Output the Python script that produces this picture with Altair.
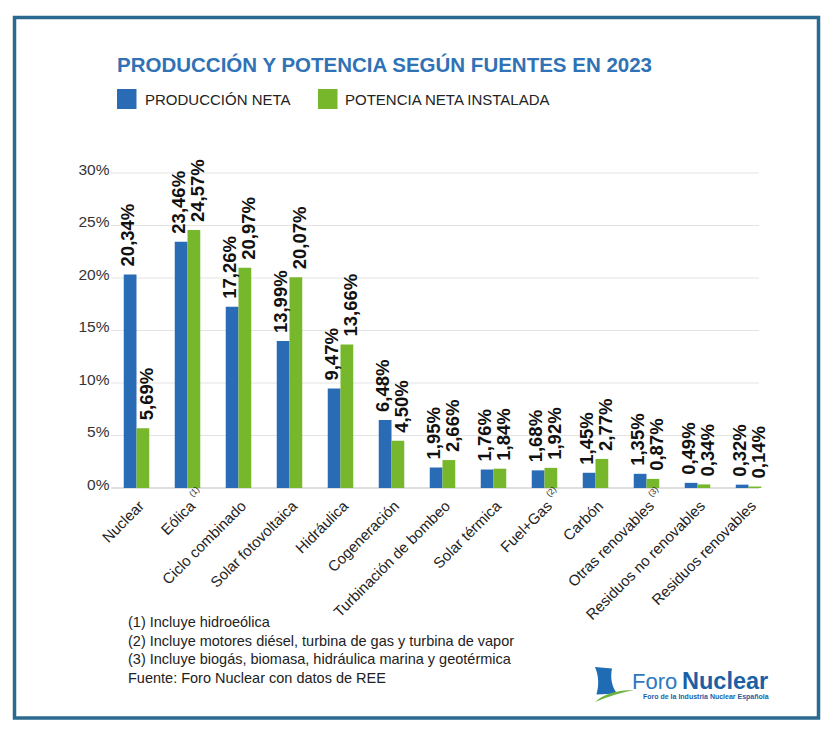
import altair as alt
import pandas as pd

# Shares of net production and installed net capacity by source, 2023 (%)
categories = [
    "Nuclear", "Eólica", "Ciclo combinado", "Solar fotovoltaica", "Hidráulica",
    "Cogeneración", "Turbinación de bombeo", "Solar térmica", "Fuel+Gas",
    "Carbón", "Otras renovables", "Residuos no renovables", "Residuos renovables",
]
note_marks = ["", "(1)", "", "", "", "", "", "", "(2)", "", "(3)", "", ""]
produccion = [20.34, 23.46, 17.26, 13.99, 9.47, 6.48, 1.95, 1.76, 1.68, 1.45, 1.35, 0.49, 0.32]
potencia = [5.69, 24.57, 20.97, 20.07, 13.66, 4.50, 2.66, 1.84, 1.92, 2.77, 0.87, 0.34, 0.14]
series = ["PRODUCCIÓN NETA", "POTENCIA NETA INSTALADA"]
y_ticks = [0, 5, 10, 15, 20, 25, 30]
notes = [
    "(1) Incluye hidroeólica",
    "(2) Incluye motores diésel, turbina de gas y turbina de vapor",
    "(3) Incluye biogás, biomasa, hidráulica marina y geotérmica",
    "Fuente: Foro Nuclear con datos de REE",
]

BLUE = "#2a6bb5"
GREEN = "#77b72b"
FRAME = "#2b6a90"
FONT = "Liberation Sans"

W, H = 663, 315
LEFT, TOP = 111, 173
TOTAL_W, TOTAL_H = 833, 736
LABEL_PAD, LABEL_SHIFT = 15, 5

rows = []
for c, p, q in zip(categories, produccion, potencia):
    rows.append({"fuente": c, "serie": series[0], "valor": p})
    rows.append({"fuente": c, "serie": series[1], "valor": q})
df = pd.DataFrame(rows)
df["etiqueta"] = df["valor"].map(lambda v: f"{v:.2f}".replace(".", ",") + "%")

notes_df = pd.DataFrame({"fuente": categories, "nota": note_marks})
notes_df = notes_df[notes_df["nota"] != ""]

y_scale = alt.Scale(domain=[0, 30], nice=False)
x_enc = alt.X(
    "fuente:N", sort=categories, title=None,
    scale=alt.Scale(paddingInner=0.5, paddingOuter=0.25),
    axis=alt.Axis(labelAngle=-45, labelAlign="right", labelBaseline="middle",
                  labelPadding=LABEL_PAD, labelOffset=LABEL_SHIFT, ticks=False, domain=False,
                  labelFontSize=15, labelColor="#222", labelFont=FONT),
)
xo_enc = alt.XOffset("serie:N", sort=series)
color_enc = alt.Color("serie:N", scale=alt.Scale(domain=series, range=[BLUE, GREEN]), legend=None)

# horizontal gridlines, the zero line slightly darker
grid = alt.Chart(pd.DataFrame({"v": y_ticks})).mark_rule(strokeWidth=1).encode(
    y=alt.Y("v:Q", scale=y_scale, title=None,
            axis=alt.Axis(values=y_ticks, labelExpr="datum.value + '%'", ticks=False,
                          domain=False, grid=False, labelFontSize=15.5, labelColor="#333",
                          labelFont=FONT, labelPadding=2, labelBaseline="alphabetic",
                          labelOffset=1)),
    x=alt.value(0), x2=alt.value(648),
    color=alt.condition("datum.v == 0", alt.value("#bdbdbd"), alt.value("#e3e3e3")),
)

bars = alt.Chart(df).mark_bar().encode(
    x=x_enc, xOffset=xo_enc, y=alt.Y("valor:Q", scale=y_scale), color=color_enc,
)


def value_labels(serie, shift):
    # vertical labels; dy moves them sideways once rotated
    return alt.Chart(df).transform_filter(alt.datum.serie == serie).mark_text(
        angle=270, align="left", baseline="middle", dx=8, dy=shift, font=FONT,
        fontWeight="bold", fontSize=18.5, color="#111",
    ).encode(x=x_enc, xOffset=xo_enc, y=alt.Y("valor:Q", scale=y_scale), text="etiqueta:N")


# small raised note markers placed right after the rotated category names
sup = LABEL_SHIFT * 0.7071
superscripts = alt.Chart(notes_df).mark_text(
    angle=315, align="left", baseline="middle", font=FONT, fontSize=8.5, color="#222",
    dx=sup + 4, dy=sup - 7,
).encode(x=x_enc, y=alt.value(H + LABEL_PAD), text="nota:N")


def one(text):
    return alt.Chart(pd.DataFrame({"t": [text]}))


def box(x0, color):
    return one("").mark_rect(color=color).encode(
        x=alt.value(x0 - LEFT), x2=alt.value(x0 + 19.5 - LEFT),
        y=alt.value(89 - TOP), y2=alt.value(109 - TOP),
    )


def legend_label(text, x0):
    return one(text).mark_text(
        align="left", baseline="middle", font=FONT, fontSize=15, color="#222",
    ).encode(x=alt.value(x0 - LEFT), y=alt.value(99.5 - TOP), text="t:N")


title = one("PRODUCCIÓN Y POTENCIA SEGÚN FUENTES EN 2023").mark_text(
    align="left", baseline="alphabetic", font=FONT, fontWeight="bold", fontSize=20.5, color="#2f72b5",
).encode(x=alt.value(117 - LEFT), y=alt.value(71.5 - TOP), text="t:N")

footnotes = one("\n".join(notes)).mark_text(
    align="left", baseline="middle", font=FONT, fontSize=14.5, color="#222",
    lineBreak="\n", lineHeight=18.7,
).encode(x=alt.value(128 - LEFT), y=alt.value(623 - TOP), text="t:N")

# Foro Nuclear logo
tower = one("").mark_point(
    shape="M -0.95 -0.85 L -0.1 -0.78 C -0.2 -0.3 -0.1 0.2 0.18 0.48 L -0.88 0.52 C -0.75 0.1 -0.75 -0.4 -0.95 -0.85 Z",
    filled=True, opacity=1, size=1600, color="#1f6cb4", strokeWidth=0,
).encode(x=alt.value(614 - LEFT), y=alt.value(684 - TOP))
swoosh = one("").mark_point(
    shape="M -0.95 0.9 Q -0.3 0.3 1.0 0.3 Q 0.0 0.5 -0.95 0.9 Z",
    filled=True, opacity=1, size=1600, color="#6db33f", strokeWidth=0,
).encode(x=alt.value(614 - LEFT), y=alt.value(684 - TOP))
logo_foro = one("Foro").mark_text(
    align="left", baseline="alphabetic", font=FONT, fontSize=22, color="#2f78c0",
).encode(x=alt.value(632 - LEFT), y=alt.value(689 - TOP), text="t:N")
logo_nuclear = one("Nuclear").mark_text(
    align="left", baseline="alphabetic", font=FONT, fontWeight="bold", fontSize=23.5, color="#1b5fa6",
).encode(x=alt.value(682 - LEFT), y=alt.value(689 - TOP), text="t:N")
logo_sub = one("Foro de la Industria Nuclear Española").mark_text(
    align="left", baseline="middle", font=FONT, fontWeight="bold", fontSize=7, color="#1b5fa6",
).encode(x=alt.value(643 - LEFT), y=alt.value(697 - TOP), text="t:N")

frame = one("").mark_rect(fillOpacity=0, stroke=FRAME, strokeWidth=3.5).encode(
    x=alt.value(14.5 - LEFT), x2=alt.value(818.5 - LEFT),
    y=alt.value(17.5 - TOP), y2=alt.value(718 - TOP),
)

chart = alt.layer(
    grid, bars, value_labels(series[0], -2.5), value_labels(series[1], 4), superscripts,
    title, box(117, BLUE), box(318, GREEN),
    legend_label(series[0], 145), legend_label(series[1], 345),
    footnotes, tower, swoosh, logo_foro, logo_nuclear, logo_sub, frame,
).properties(
    width=W, height=H,
    autosize=alt.AutoSizeParams(type="none"),
    padding={"left": LEFT, "top": TOP, "right": TOTAL_W - LEFT - W, "bottom": TOTAL_H - TOP - H},
    background="white",
).configure_view(stroke=None)

chart.save("out.html", embed_options={"renderer": "svg", "actions": False})
